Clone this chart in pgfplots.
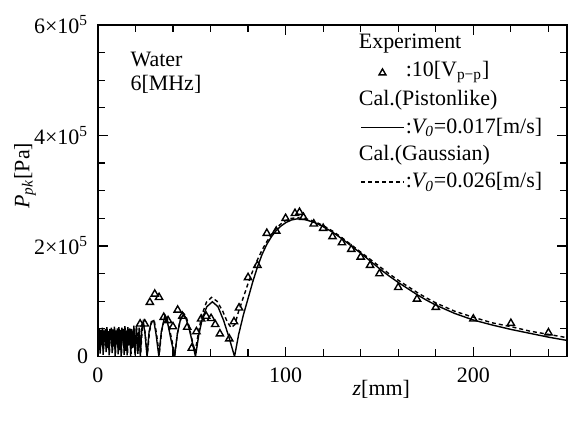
\documentclass[border=0pt]{standalone}
\usepackage{fontspec}
\setmainfont{Liberation Serif}
\usepackage{pgfplots}
\pgfplotsset{compat=1.18}
\usetikzlibrary{calc}
\begin{document}
\fontsize{11}{13}\selectfont
\begin{tikzpicture}
\begin{axis}[
  scale only axis,
  width=235pt, height=166pt,
  xmin=0, xmax=250, ymin=0, ymax=6,
  axis line style={line width=0.8pt},
  xtick={0,100,200}, xticklabels={0,100,200},
  minor xtick={20,40,60,80,120,140,160,180,220,240},
  ytick={0,2,4,6},
  yticklabels={0,2×10\textsuperscript{5},4×10\textsuperscript{5},6×10\textsuperscript{5}},
  minor ytick={0.5,1,1.5,2.5,3,3.5,4.5,5,5.5},
  major tick length=5pt, minor tick length=3.5pt,
  every tick/.style={line width=0.6pt, black},
  tick label style={font=\fontsize{11}{13}\selectfont},
  xticklabel style={yshift=-2pt},
  yticklabel style={xshift=-1pt},
  xlabel={\textit{z}[mm]},
  xlabel style={at={(axis description cs:0.604,-0.10)}, anchor=center},
  ylabel={\textit{P}\textsubscript{\textit{pk}}[Pa]},
  ylabel style={at={(axis description cs:-0.155,0.545)}, anchor=center, rotate=0},
  clip=true,
]
% Pistonlike (solid)
\addplot[black, line width=0.7pt] coordinates {
(0,0.45)(0.4,0.12)(0.8,0.50)(1.2,0.05)(1.6,0.48)(2.0,0.20)(2.4,0.52)(2.8,0.03)
(3.2,0.47)(3.6,0.25)(4.0,0.50)(4.4,0.08)(4.8,0.53)(5.2,0.15)(5.6,0.46)(6.0,0.02)
(6.4,0.50)(6.8,0.30)(7.2,0.52)(7.6,0.06)(8.0,0.49)(8.4,0.18)(8.8,0.54)(9.2,0.01)
(9.6,0.47)(10.0,0.22)(10.4,0.51)(10.8,0.04)(11.2,0.53)(11.6,0.12)(12.0,0.48)(12.4,0.00)
(12.8,0.52)(13.2,0.28)(13.6,0.50)(14.0,0.03)(14.4,0.55)(14.8,0.10)(15.2,0.47)(15.6,0.02)
(16.0,0.53)(16.5,0.20)(17.0,0.51)(17.5,0.01)(18.0,0.50)(18.6,0.15)(19.2,0.56)(19.8,0.02)
(20.5,0.55)(21.3,0.05)(22.0,0.52)(22.6,0.00)(23.4,0.50)(24.1,0.62)(25.0,0.45)(26.2,0.00)
(27.3,0.45)(28.5,0.63)(29.8,0.65)(31.0,0.40)(32.5,0.00)(33.8,0.45)(35.6,0.72)(37.2,0.60)
(39.0,0.30)(40.9,0.00)(42.3,0.40)(43.8,0.64)(45.3,0.75)(46.8,0.70)(48.5,0.52)(50.3,0.26)
(52.0,0.00)(53.7,0.38)(55.6,0.68)(58.0,0.90)(61.0,0.99)(64.0,0.90)(67.0,0.65)(70.0,0.33)
(72.8,0.00)(75,0.40)(77.5,0.75)(80,1.05)(82.5,1.35)(85,1.62)(87.5,1.85)(90,2.03)
(92.5,2.17)(95,2.28)(97.5,2.36)(100,2.42)(103,2.47)(106,2.49)(110,2.48)(115,2.43)
(120,2.35)(125,2.25)(130,2.13)(135,2.00)(140,1.87)(145,1.73)(150,1.59)(155,1.46)
(160,1.34)(165,1.23)(170,1.12)(175,1.02)(180,0.93)(190,0.78)(200,0.66)(210,0.57)
(220,0.49)(230,0.42)(240,0.35)(250,0.29)
};
% Gaussian (dashed)
\addplot[black, line width=0.7pt, dash pattern=on 2pt off 1.5pt] coordinates {
(0.2,0.40)(0.6,0.15)(1.0,0.47)(1.4,0.10)(1.8,0.45)(2.2,0.22)(2.6,0.50)(3.0,0.08)
(3.4,0.44)(3.8,0.20)(4.2,0.48)(4.6,0.12)(5.0,0.50)(5.4,0.18)(5.8,0.44)(6.2,0.06)
(6.6,0.47)(7.0,0.25)(7.4,0.50)(7.8,0.10)(8.2,0.46)(8.6,0.20)(9.0,0.51)(9.4,0.05)
(9.8,0.45)(10.2,0.25)(10.6,0.49)(11.0,0.08)(11.4,0.50)(11.8,0.15)(12.2,0.46)(12.6,0.04)
(13.0,0.50)(13.4,0.25)(13.8,0.48)(14.2,0.06)(14.6,0.52)(15.0,0.14)(15.4,0.45)(15.8,0.05)
(16.2,0.50)(16.7,0.22)(17.2,0.49)(17.7,0.05)(18.2,0.48)(18.8,0.18)(19.4,0.53)(20.0,0.05)
(20.7,0.52)(21.5,0.08)(22.2,0.50)(22.8,0.05)(23.6,0.48)(24.3,0.60)(25.2,0.42)(26.4,0.03)
(27.5,0.45)(28.7,0.62)(30.0,0.66)(31.2,0.42)(32.7,0.04)(34.0,0.46)(35.8,0.74)(37.4,0.62)
(39.2,0.33)(41.0,0.04)(42.4,0.42)(43.9,0.67)(45.3,0.79)(46.8,0.74)(48.5,0.56)(50.2,0.30)
(51.8,0.08)(53.4,0.40)(55.3,0.74)(57.8,0.98)(60.5,1.07)(63.5,1.00)(66.5,0.82)(69,0.62)
(71,0.52)(73,0.58)(75,0.82)(77.5,1.07)(80,1.32)(82.5,1.55)(85,1.75)(87.5,1.93)
(90,2.08)(92.5,2.21)(95,2.32)(97.5,2.40)(100,2.46)(103,2.50)(106,2.51)(110,2.50)
(115,2.45)(120,2.37)(125,2.27)(130,2.15)(135,2.02)(140,1.89)(145,1.76)(150,1.63)
(155,1.50)(160,1.38)(165,1.27)(170,1.16)(175,1.06)(180,0.97)(190,0.82)(200,0.71)
(210,0.61)(220,0.54)(230,0.46)(240,0.40)(250,0.34)
};
% Experiment
\addplot[only marks, mark=triangle, mark size=2.1pt, mark options={black, line width=0.7pt, fill=white}] coordinates {
(22.5,0.59)(25,0.59)(27.7,0.98)(30.3,1.13)(32.6,1.07)(35.1,0.71)(37.4,0.65)(40,0.54)
(42.5,0.84)(45,0.73)(47.6,0.53)(50,0.15)(52.5,0.45)(55,0.68)(57.7,0.73)(60.3,0.69)
(62.5,0.58)(65,0.41)(70,0.32)(72.5,0.63)(75.2,0.88)(80,1.43)(85,1.65)(90,2.23)
(95,2.27)(100,2.50)(105,2.59)(107.4,2.61)(109.5,2.52)(115,2.40)(120,2.32)(125,2.17)
(130,2.06)(135,1.94)(140,1.80)(145,1.65)(150,1.50)(160,1.25)(170,1.04)(180,0.89)
(200,0.68)(220,0.60)(240,0.43)
};
% annotations
\node[anchor=west] at (axis cs:13.3,5.37) {Water};
\node[anchor=west] at (axis cs:13.3,4.92) {6[MHz]};
% legend
\node[anchor=west, inner sep=0pt] at (axis cs:138.8,5.67) {Experiment};
\node[inner sep=0pt] at (axis cs:151.6,5.15) {\tikz[line width=0.7pt]\pgfuseplotmark{triangle};};
\node[anchor=west, inner sep=0pt] at (axis cs:163.8,5.15) {:10[V\textsubscript{p−p}]};
\node[anchor=west, inner sep=0pt] at (axis cs:138.8,4.64) {Cal.(Pistonlike)};
\draw[black, line width=0.7pt] (axis cs:140.4,4.14) -- (axis cs:162.8,4.14);
\node[anchor=west, inner sep=0pt] at (axis cs:163.8,4.14) {:\textit{V\textsubscript{0}}=0.017[m/s]};
\node[anchor=west, inner sep=0pt] at (axis cs:138.8,3.65) {Cal.(Gaussian)};
\draw[black, line width=0.7pt, dash pattern=on 2pt off 1.5pt] (axis cs:140.4,3.16) -- (axis cs:162.8,3.16);
\node[anchor=west, inner sep=0pt] at (axis cs:163.8,3.16) {:\textit{V\textsubscript{0}}=0.026[m/s]};
\node at (axis description cs:0.509,-0.225) {(a)};
\end{axis}
\path[use as bounding box] ($(current axis.south west)+(-49pt,-41pt)$) rectangle ($(current axis.north east)+(0pt,12.5pt)$);
\end{tikzpicture}
\end{document}
